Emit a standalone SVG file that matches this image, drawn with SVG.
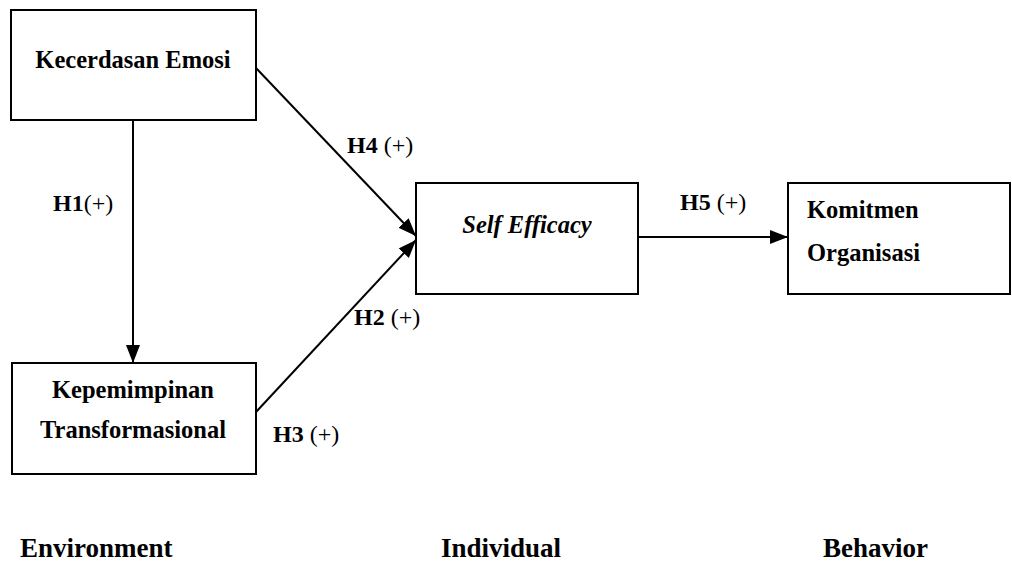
<svg xmlns="http://www.w3.org/2000/svg" width="1012" height="577" viewBox="0 0 1012 577">
  <style>
    .box { fill: #fff; stroke: #000; stroke-width: 2; }
    .t { font-family: "Liberation Serif", "Times New Roman", serif; font-weight: bold; font-size: 24.5px; fill: #000; }
    .lbl { font-family: "Liberation Serif", "Times New Roman", serif; font-size: 24px; fill: #000; }
    .lbl .b { font-weight: bold; }
    .cap { font-family: "Liberation Serif", "Times New Roman", serif; font-weight: bold; font-size: 27px; fill: #000; }
    .edge { stroke: #000; stroke-width: 2; fill: none; marker-end: url(#head); }
  </style>
  <defs>
    <marker id="head" viewBox="0 0 18 14" refX="18" refY="7" markerWidth="18" markerHeight="14" markerUnits="userSpaceOnUse" orient="auto">
      <path d="M0,0 L18,7 L0,14 Z" fill="#000"/>
    </marker>
  </defs>

  <rect width="1012" height="577" fill="#fff"/>

  <g id="connectors">
    <line class="edge" x1="133" y1="120" x2="133" y2="363"/>
    <line class="edge" x1="256" y1="68" x2="416" y2="236"/>
    <line class="edge" x1="256" y1="412" x2="416" y2="240"/>
    <line class="edge" x1="638" y1="237" x2="788" y2="237"/>
  </g>

  <g id="node-kecerdasan">
    <rect class="box" x="11" y="10" width="245" height="110"/>
    <text class="t" x="133" y="68" text-anchor="middle">Kecerdasan Emosi</text>
  </g>

  <g id="node-kepemimpinan">
    <rect class="box" x="12" y="363" width="244" height="111"/>
    <text class="t" x="133" y="398" text-anchor="middle">Kepemimpinan</text>
    <text class="t" x="133" y="438" text-anchor="middle">Transformasional</text>
  </g>

  <g id="node-self-efficacy">
    <rect class="box" x="416" y="183" width="222" height="111"/>
    <text class="t" x="527" y="233" text-anchor="middle" font-style="italic">Self Efficacy</text>
  </g>

  <g id="node-komitmen">
    <rect class="box" x="788" y="183" width="222" height="111"/>
    <text class="t" x="807" y="218">Komitmen</text>
    <text class="t" x="807" y="261">Organisasi</text>
  </g>

  <g id="labels">
    <text class="lbl" x="53" y="211"><tspan class="b">H1</tspan>(+)</text>
    <text class="lbl" x="347" y="153"><tspan class="b">H4</tspan> (+)</text>
    <text class="lbl" x="354" y="325"><tspan class="b">H2</tspan> (+)</text>
    <text class="lbl" x="273" y="442"><tspan class="b">H3</tspan> (+)</text>
    <text class="lbl" x="680" y="210"><tspan class="b">H5</tspan> (+)</text>
  </g>

  <g id="captions">
    <text class="cap" x="20" y="557">Environment</text>
    <text class="cap" x="441" y="557">Individual</text>
    <text class="cap" x="823" y="557">Behavior</text>
  </g>
</svg>
